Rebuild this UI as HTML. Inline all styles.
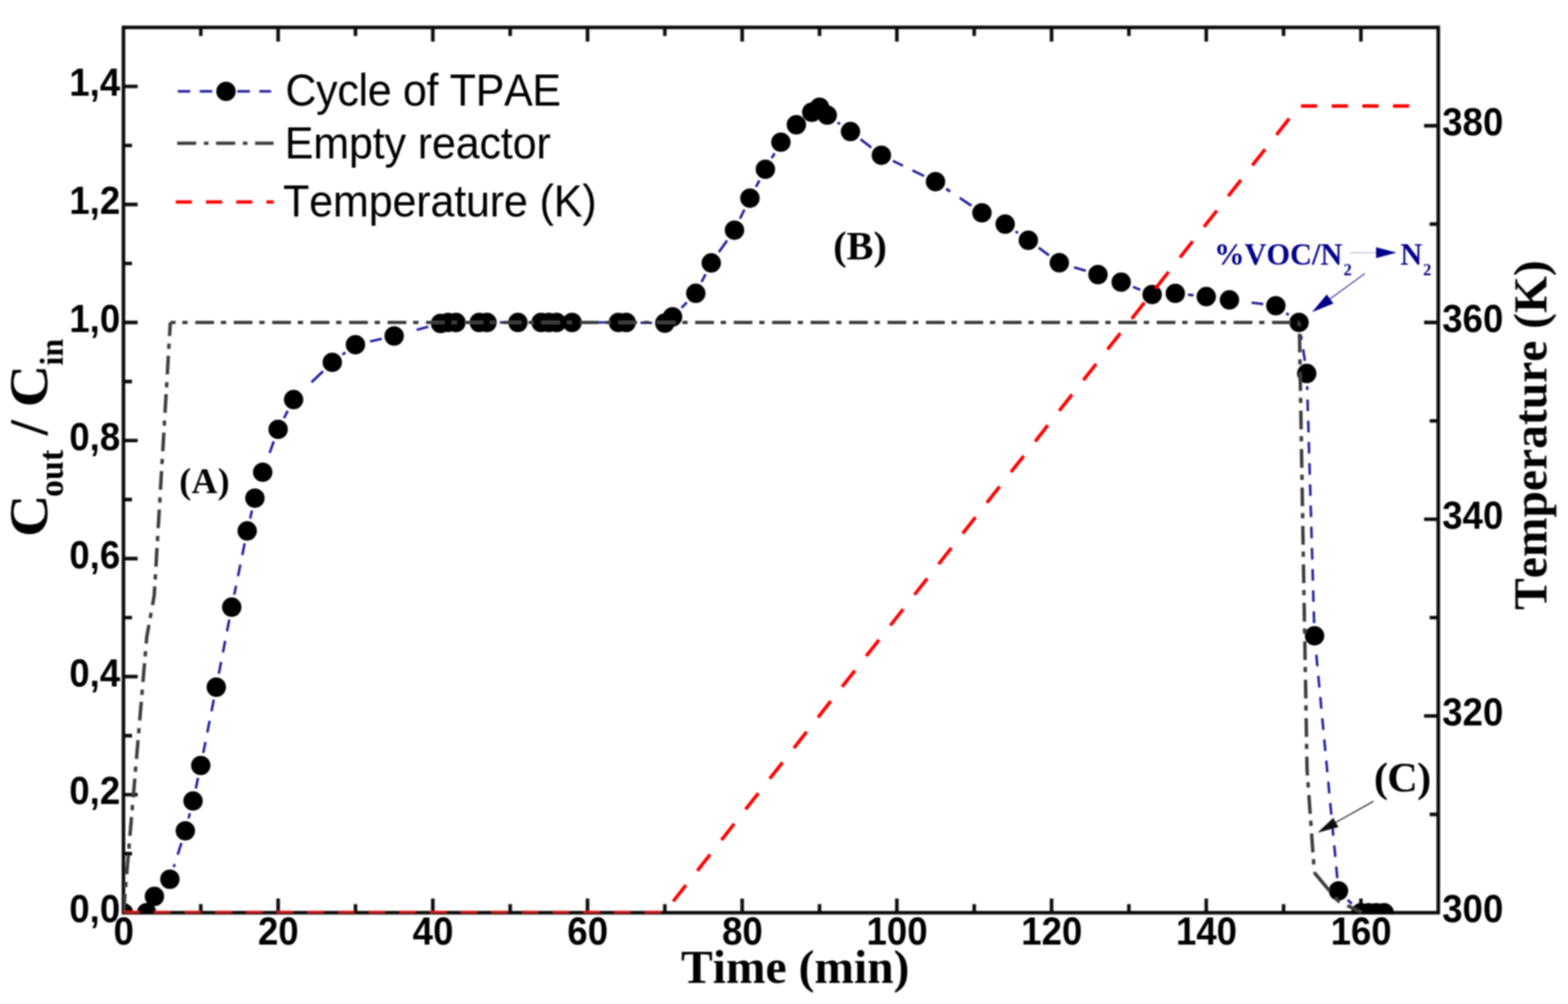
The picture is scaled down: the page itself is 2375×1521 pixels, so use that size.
<!DOCTYPE html>
<html lang="en"><head><meta charset="utf-8"><title>Cycle of TPAE</title>
<style>
html,body{margin:0;padding:0;background:#fff;}
body{width:2375px;height:1521px;overflow:hidden;}
svg{display:block;}
text{font-kerning:none;}
.sb{font-family:"Liberation Sans",Arial,Helvetica,sans-serif;font-weight:700;font-size:59px;fill:#000;}
.sr{font-family:"Liberation Sans",Arial,Helvetica,sans-serif;font-weight:400;font-size:68px;fill:#000;}
.tb{font-family:"Liberation Serif","Times New Roman",Times,serif;font-weight:700;fill:#000;}
</style></head><body>
<svg width="2375" height="1521" viewBox="0 0 2375 1521">
<defs>
<clipPath id="plot"><rect x="187.00" y="41.50" width="1991.50" height="1342.70"/></clipPath>
<filter id="soft" x="-2%" y="-2%" width="104%" height="104%"><feGaussianBlur stdDeviation="0.9"/></filter>
</defs>
<rect width="2375" height="1521" fill="#fff"/>
<g filter="url(#soft)">
<g stroke="#0c0c0c" fill="none" stroke-linecap="butt">
<rect x="187.00" y="41.50" width="1991.50" height="1341.20" stroke-width="5.4"/>
<path d="M304.15 1382.70 v-13.00 M304.15 41.50 v13.00 M421.29 1382.70 v-21.50 M421.29 41.50 v21.50 M538.44 1382.70 v-13.00 M538.44 41.50 v13.00 M655.59 1382.70 v-21.50 M655.59 41.50 v21.50 M772.74 1382.70 v-13.00 M772.74 41.50 v13.00 M889.88 1382.70 v-21.50 M889.88 41.50 v21.50 M1007.03 1382.70 v-13.00 M1007.03 41.50 v13.00 M1124.18 1382.70 v-21.50 M1124.18 41.50 v21.50 M1241.32 1382.70 v-13.00 M1241.32 41.50 v13.00 M1358.47 1382.70 v-21.50 M1358.47 41.50 v21.50 M1475.62 1382.70 v-13.00 M1475.62 41.50 v13.00 M1592.76 1382.70 v-21.50 M1592.76 41.50 v21.50 M1709.91 1382.70 v-13.00 M1709.91 41.50 v13.00 M1827.06 1382.70 v-21.50 M1827.06 41.50 v21.50 M1944.21 1382.70 v-13.00 M1944.21 41.50 v13.00 M2061.35 1382.70 v-21.50 M2061.35 41.50 v21.50 M187.00 1293.29 h13.00 M187.00 1203.87 h21.50 M187.00 1114.46 h13.00 M187.00 1025.05 h21.50 M187.00 935.63 h13.00 M187.00 846.22 h21.50 M187.00 756.81 h13.00 M187.00 667.39 h21.50 M187.00 577.98 h13.00 M187.00 488.57 h21.50 M187.00 399.15 h13.00 M187.00 309.74 h21.50 M187.00 220.33 h13.00 M187.00 130.91 h21.50 M2178.50 1233.68 h-13.00 M2178.50 1084.66 h-21.50 M2178.50 935.63 h-13.00 M2178.50 786.61 h-21.50 M2178.50 637.59 h-13.00 M2178.50 488.57 h-21.50 M2178.50 339.54 h-13.00 M2178.50 190.52 h-21.50" stroke-width="5.4"/>
</g>
<g clip-path="url(#plot)">
<path fill="none" stroke="#1a1a9a" stroke-width="3.7" d="M274.8 1277.0L269.2 1294.6 M264.6 1309.1L263.2 1313.6 M287.6 1232.1L285.6 1239.9 M300.0 1178.5L296.5 1194.5 M323.8 1059.9L320.4 1077.5 M317.5 1092.0L314.0 1109.6 M311.2 1124.1L307.9 1140.7 M347.3 938.7L343.9 956.3 M341.1 970.8L337.7 988.4 M334.9 1002.9L331.5 1020.5 M370.6 823.2L367.0 840.8 M364.1 855.3L360.5 872.9 M357.6 887.4L354.8 900.9 M381.7 773.5L378.9 785.5 M414.7 668.6L408.4 686.2 M435.8 622.4L430.2 633.3 M489.4 562.3L471.8 579.2 M523.1 533.9L518.7 537.2 M578.2 513.2L560.6 517.2 M648.7 495.0L631.1 499.8 M765.2 488.5L756.9 488.5 M917.4 488.5L899.8 488.5 M987.7 489.2L970.1 488.9 M1040.3 458.1L1032.3 466.2 M1068.6 415.5L1062.6 427.1 M1101.3 364.4L1088.8 382.0 M1127.5 317.6L1120.9 331.3 M1150.2 273.4L1145.0 283.2 M1173.2 232.2L1168.9 239.6 M1272.4 188.1L1268.8 185.6 M1319.7 223.5L1303.5 211.0 M1399.7 266.7L1382.1 258.2 M1367.6 251.1L1352.4 243.7 M1471.3 311.6L1453.7 299.8 M1439.2 290.1L1433.1 286.0 M1541.8 353.0L1538.3 350.5 M1588.9 386.7L1573.2 375.3 M1644.6 410.3L1627.0 404.9 M1727.1 439.0L1716.1 434.6 M1807.9 447.3L1799.4 446.4 M1913.3 460.7L1895.7 458.5 M1952.0 477.1L1948.2 474.4 M1976.5 546.7L1973.8 529.1 M1971.6 514.6L1970.5 507.5 M1990.5 943.9L1990.0 926.3 M1989.5 911.8L1989.0 894.2 M1988.6 879.7L1988.1 862.1 M1987.7 847.6L1987.1 830.0 M1986.7 815.5L1986.2 797.9 M1985.8 783.4L1985.2 765.8 M1984.8 751.3L1984.3 733.7 M1983.9 719.2L1983.4 701.6 M1982.9 687.1L1982.4 669.5 M1982.0 655.0L1981.5 637.4 M1981.0 622.9L1980.5 605.3 M1980.1 590.8L1979.9 585.1 M2025.6 1330.4L2023.9 1312.8 M2022.6 1298.3L2020.9 1280.7 M2019.5 1266.2L2017.9 1248.6 M2016.5 1234.1L2014.9 1216.5 M2013.5 1202.0L2011.9 1184.4 M2010.5 1169.9L2008.8 1152.3 M2007.5 1137.8L2005.8 1120.2 M2004.5 1105.7L2002.8 1088.1 M2001.4 1073.6L1999.8 1056.0 M1998.4 1041.5L1996.8 1023.9 M1995.4 1009.4L1993.8 991.8 M2047.5 1369.2L2041.2 1363.1"/>
<g fill="#000">
<circle cx="187.0" cy="1382.7" r="14.7"/>
<circle cx="222.1" cy="1382.7" r="14.7"/>
<circle cx="233.9" cy="1358.0" r="14.7"/>
<circle cx="257.3" cy="1332.0" r="14.7"/>
<circle cx="280.7" cy="1258.6" r="14.7"/>
<circle cx="292.4" cy="1213.4" r="14.7"/>
<circle cx="304.1" cy="1159.6" r="14.7"/>
<circle cx="327.6" cy="1041.0" r="14.7"/>
<circle cx="351.0" cy="919.8" r="14.7"/>
<circle cx="374.4" cy="804.3" r="14.7"/>
<circle cx="386.1" cy="754.7" r="14.7"/>
<circle cx="397.9" cy="715.4" r="14.7"/>
<circle cx="421.3" cy="650.4" r="14.7"/>
<circle cx="444.7" cy="605.3" r="14.7"/>
<circle cx="503.3" cy="548.9" r="14.7"/>
<circle cx="538.4" cy="522.2" r="14.7"/>
<circle cx="597.0" cy="509.0" r="14.7"/>
<circle cx="667.3" cy="490.0" r="14.7"/>
<circle cx="679.0" cy="488.5" r="14.7"/>
<circle cx="690.7" cy="488.5" r="14.7"/>
<circle cx="725.9" cy="488.5" r="14.7"/>
<circle cx="737.6" cy="488.5" r="14.7"/>
<circle cx="784.5" cy="488.5" r="14.7"/>
<circle cx="819.6" cy="488.5" r="14.7"/>
<circle cx="831.3" cy="488.5" r="14.7"/>
<circle cx="843.0" cy="488.5" r="14.7"/>
<circle cx="866.5" cy="488.5" r="14.7"/>
<circle cx="936.7" cy="488.5" r="14.7"/>
<circle cx="948.5" cy="488.5" r="14.7"/>
<circle cx="1007.0" cy="489.5" r="14.7"/>
<circle cx="1018.7" cy="480.0" r="14.7"/>
<circle cx="1053.9" cy="444.3" r="14.7"/>
<circle cx="1077.3" cy="398.3" r="14.7"/>
<circle cx="1112.5" cy="348.7" r="14.7"/>
<circle cx="1135.9" cy="300.2" r="14.7"/>
<circle cx="1159.3" cy="256.4" r="14.7"/>
<circle cx="1182.8" cy="215.4" r="14.7"/>
<circle cx="1206.2" cy="189.0" r="14.7"/>
<circle cx="1229.6" cy="170.0" r="14.7"/>
<circle cx="1241.3" cy="162.4" r="14.7"/>
<circle cx="1253.0" cy="174.4" r="14.7"/>
<circle cx="1288.2" cy="199.3" r="14.7"/>
<circle cx="1335.0" cy="235.2" r="14.7"/>
<circle cx="1417.0" cy="275.2" r="14.7"/>
<circle cx="1487.3" cy="322.4" r="14.7"/>
<circle cx="1522.5" cy="339.5" r="14.7"/>
<circle cx="1557.6" cy="364.0" r="14.7"/>
<circle cx="1604.5" cy="398.0" r="14.7"/>
<circle cx="1663.1" cy="416.0" r="14.7"/>
<circle cx="1698.2" cy="427.4" r="14.7"/>
<circle cx="1745.1" cy="446.2" r="14.7"/>
<circle cx="1780.2" cy="444.4" r="14.7"/>
<circle cx="1827.1" cy="449.3" r="14.7"/>
<circle cx="1862.2" cy="454.3" r="14.7"/>
<circle cx="1932.5" cy="463.1" r="14.7"/>
<circle cx="1967.6" cy="488.4" r="14.7"/>
<circle cx="1979.3" cy="565.8" r="14.7"/>
<circle cx="1991.1" cy="963.2" r="14.7"/>
<circle cx="2027.4" cy="1349.6" r="14.7"/>
<circle cx="2061.4" cy="1382.7" r="14.7"/>
<circle cx="2073.1" cy="1382.7" r="14.7"/>
<circle cx="2084.8" cy="1382.7" r="14.7"/>
<circle cx="2096.5" cy="1382.7" r="14.7"/>
</g>
<path fill="none" stroke="#3c3c3c" stroke-width="5.2" d="M187.0 1382.7L189.4 1354.3 M190.3 1344.0L190.9 1336.0 M191.9 1324.5L194.3 1296.0 M195.2 1285.8L195.9 1277.8 M196.8 1266.2L199.2 1237.8 M200.1 1227.5L200.8 1219.5 M201.8 1208.0L204.2 1179.5 M205.0 1169.2L205.7 1161.2 M206.7 1149.7L209.1 1121.3 M210.0 1111.0L210.6 1103.0 M211.6 1091.5L214.0 1063.1 M214.9 1052.8L215.6 1044.8 M216.5 1033.2L218.9 1004.8 M219.8 994.5L220.5 986.5 M221.5 975.0L222.3 965.0 M222.3 965.0L225.6 946.6 M227.5 936.2L228.9 928.2 M231.0 916.7L233.6 902.0 M233.6 902.0L234.4 888.3 M235.0 878.0L235.5 870.0 M236.2 858.5L237.8 830.1 M238.5 819.8L238.9 811.8 M239.6 800.2L241.3 771.8 M241.9 761.5L242.4 753.5 M243.0 742.0L244.7 713.6 M245.3 703.2L245.8 695.2 M246.5 683.7L248.2 655.3 M248.8 645.0L249.2 637.0 M249.9 625.5L251.6 597.1 M252.2 586.8L252.7 578.8 M253.4 567.2L255.0 538.8 M255.6 528.5L256.1 520.5 M256.8 509.0L258.0 488.5 M258.0 488.5L265.9 488.5 M276.2 488.5L284.2 488.5 M295.8 488.5L324.2 488.5 M334.5 488.5L342.5 488.5 M354.0 488.5L382.4 488.5 M392.8 488.5L400.8 488.5 M412.3 488.5L440.7 488.5 M451.0 488.5L459.0 488.5 M470.5 488.5L498.9 488.5 M509.2 488.5L517.2 488.5 M528.8 488.5L557.2 488.5 M567.5 488.5L575.5 488.5 M587.0 488.5L615.5 488.5 M625.8 488.5L633.8 488.5 M645.3 488.5L673.7 488.5 M684.0 488.5L692.0 488.5 M703.5 488.5L731.9 488.5 M742.2 488.5L750.2 488.5 M761.8 488.5L790.2 488.5 M800.5 488.5L808.5 488.5 M820.0 488.5L848.4 488.5 M858.7 488.5L866.7 488.5 M878.3 488.5L906.7 488.5 M917.0 488.5L925.0 488.5 M936.5 488.5L964.9 488.5 M975.2 488.5L983.2 488.5 M994.8 488.5L1023.2 488.5 M1033.5 488.5L1041.5 488.5 M1053.0 488.5L1081.4 488.5 M1091.7 488.5L1099.7 488.5 M1111.3 488.5L1139.7 488.5 M1150.0 488.5L1158.0 488.5 M1169.5 488.5L1197.9 488.5 M1208.2 488.5L1216.2 488.5 M1227.8 488.5L1256.2 488.5 M1266.5 488.5L1274.5 488.5 M1286.0 488.5L1314.4 488.5 M1324.7 488.5L1332.7 488.5 M1344.3 488.5L1372.7 488.5 M1383.0 488.5L1391.0 488.5 M1402.5 488.5L1430.9 488.5 M1441.2 488.5L1449.2 488.5 M1460.8 488.5L1489.2 488.5 M1499.5 488.5L1507.5 488.5 M1519.0 488.5L1547.4 488.5 M1557.7 488.5L1565.7 488.5 M1577.3 488.5L1605.7 488.5 M1616.0 488.5L1624.0 488.5 M1635.5 488.5L1663.9 488.5 M1674.2 488.5L1682.2 488.5 M1693.8 488.5L1722.2 488.5 M1732.5 488.5L1740.5 488.5 M1752.0 488.5L1780.4 488.5 M1790.7 488.5L1798.7 488.5 M1810.3 488.5L1838.7 488.5 M1849.0 488.5L1857.0 488.5 M1868.5 488.5L1896.9 488.5 M1907.2 488.5L1915.2 488.5 M1926.8 488.5L1955.2 488.5 M1965.5 488.5L1968.0 488.5 M1968.0 488.5L1968.1 494.0 M1968.3 505.5L1968.8 533.9 M1969.0 544.2L1969.1 552.2 M1969.3 563.8L1969.8 592.2 M1970.0 602.5L1970.1 610.5 M1970.3 622.0L1970.8 650.4 M1971.0 660.7L1971.1 668.7 M1971.3 680.3L1971.8 708.7 M1972.0 719.0L1972.1 727.0 M1972.3 738.5L1972.8 766.9 M1973.0 777.2L1973.1 785.2 M1973.3 796.8L1973.8 825.2 M1974.0 835.5L1974.1 843.5 M1974.3 855.0L1974.8 883.4 M1975.0 893.7L1975.1 901.7 M1975.3 913.3L1975.8 941.7 M1976.0 952.0L1976.2 960.0 M1976.4 971.5L1976.8 999.9 M1977.0 1010.2L1977.2 1018.2 M1977.4 1029.8L1977.9 1058.2 M1978.0 1068.5L1978.2 1076.5 M1978.4 1088.0L1978.9 1116.4 M1979.0 1126.7L1979.2 1134.7 M1979.4 1146.3L1979.7 1165.0 M1979.7 1165.0L1980.4 1174.7 M1981.1 1185.0L1981.7 1193.0 M1982.5 1204.5L1984.5 1232.9 M1985.2 1243.2L1985.8 1251.2 M1986.6 1262.8L1988.6 1291.2 M1989.4 1301.5L1989.9 1309.5 M1990.7 1321.0L1990.8 1322.0 M1990.8 1322.0L2013.7 1349.4 M2022.2 1359.7L2026.6 1365.0 M2026.6 1365.0L2029.3 1366.3 M2040.9 1371.8L2062.3 1382.0"/>
</g>
<path fill="none" stroke="#d01212" stroke-width="3.6" d="M187.0 1381.6L211.6 1381.6 M233.4 1381.6L258.1 1381.6 M279.9 1381.6L304.5 1381.6 M326.4 1381.6L350.9 1381.6 M372.8 1381.6L397.4 1381.6 M419.2 1381.6L443.8 1381.6 M465.7 1381.6L490.3 1381.6 M512.2 1381.6L536.8 1381.6 M558.6 1381.6L583.2 1381.6 M605.1 1381.6L629.7 1381.6 M651.5 1381.6L676.1 1381.6 M698.0 1381.6L722.6 1381.6 M744.4 1381.6L769.0 1381.6 M790.9 1381.6L815.5 1381.6 M837.3 1381.6L861.9 1381.6 M883.8 1381.6L908.4 1381.6 M930.2 1381.6L954.8 1381.6 M976.7 1381.6L1001.3 1381.6"/>
<path fill="none" stroke="#ff0000" stroke-width="5.2" d="M1019.7 1365.5L1039.0 1340.9 M1056.2 1319.1L1075.6 1294.5 M1092.8 1272.6L1112.1 1248.0 M1129.3 1226.2L1148.7 1201.6 M1165.9 1179.7L1185.2 1155.1 M1202.4 1133.3L1221.8 1108.7 M1239.0 1086.8L1258.3 1062.2 M1275.5 1040.4L1294.9 1015.8 M1312.1 993.9L1331.4 969.3 M1348.6 947.5L1368.0 922.9 M1385.1 901.0L1404.5 876.4 M1421.7 854.6L1441.1 830.0 M1458.2 808.1L1477.6 783.5 M1494.8 761.7L1514.1 737.1 M1531.3 715.2L1550.7 690.6 M1567.9 668.8L1587.2 644.2 M1604.4 622.3L1623.8 597.7 M1641.0 575.9L1660.3 551.3 M1677.5 529.4L1696.9 504.8 M1714.1 483.0L1733.4 458.4 M1750.6 436.5L1770.0 411.9 M1787.2 390.1L1806.5 365.5 M1823.7 343.6L1843.1 319.0 M1860.3 297.2L1879.6 272.6 M1896.8 250.7L1916.2 226.1 M1933.4 204.3L1952.7 179.7 M1970.5 160.7L1995.1 160.7 M2017.0 160.7L2041.6 160.7 M2063.4 160.7L2088.0 160.7 M2109.9 160.7L2134.5 160.7"/>
<g class="sb">
<text transform="translate(182.0 1397.2) scale(0.940 1)" text-anchor="end">0,0</text>
<text transform="translate(182.0 1218.4) scale(0.940 1)" text-anchor="end">0,2</text>
<text transform="translate(182.0 1039.5) scale(0.940 1)" text-anchor="end">0,4</text>
<text transform="translate(182.0 860.7) scale(0.940 1)" text-anchor="end">0,6</text>
<text transform="translate(182.0 681.9) scale(0.940 1)" text-anchor="end">0,8</text>
<text transform="translate(182.0 503.1) scale(0.940 1)" text-anchor="end">1,0</text>
<text transform="translate(182.0 324.2) scale(0.940 1)" text-anchor="end">1,2</text>
<text transform="translate(182.0 145.4) scale(0.940 1)" text-anchor="end">1,4</text>
<text transform="translate(187.3 1431.2) scale(0.940 1)" text-anchor="middle">0</text>
<text transform="translate(421.6 1431.2) scale(0.940 1)" text-anchor="middle">20</text>
<text transform="translate(655.9 1431.2) scale(0.940 1)" text-anchor="middle">40</text>
<text transform="translate(890.2 1431.2) scale(0.940 1)" text-anchor="middle">60</text>
<text transform="translate(1124.5 1431.2) scale(0.940 1)" text-anchor="middle">80</text>
<text transform="translate(1358.8 1431.2) scale(0.940 1)" text-anchor="middle">100</text>
<text transform="translate(1593.1 1431.2) scale(0.940 1)" text-anchor="middle">120</text>
<text transform="translate(1827.4 1431.2) scale(0.940 1)" text-anchor="middle">140</text>
<text transform="translate(2061.7 1431.2) scale(0.940 1)" text-anchor="middle">160</text>
<text transform="translate(2184.5 1397.2) scale(0.940 1)" text-anchor="start">300</text>
<text transform="translate(2184.5 1099.2) scale(0.940 1)" text-anchor="start">320</text>
<text transform="translate(2184.5 801.1) scale(0.940 1)" text-anchor="start">340</text>
<text transform="translate(2184.5 503.1) scale(0.940 1)" text-anchor="start">360</text>
<text transform="translate(2184.5 205.0) scale(0.940 1)" text-anchor="start">380</text>
</g>
<g>
<path d="M269.2 138.4H410.6" fill="none" stroke="#1a1a9a" stroke-width="3.7" stroke-dasharray="19 14.3 19 38 19 14.3 19 40"/>
<circle cx="342.3" cy="138.4" r="14.7" fill="#000"/>
<path d="M268.3 217H414.5" fill="none" stroke="#3c3c3c" stroke-width="5.2" stroke-dasharray="29 11.5 7 11.5"/>
<path d="M266.2 306H414.5" fill="none" stroke="#ff0000" stroke-width="5.2" stroke-dasharray="24.5 21.3"/>
<text class="sr" transform="translate(432.3 160.2) scale(0.96 1)" textLength="435.0" lengthAdjust="spacing">Cycle of TPAE</text>
<text class="sr" transform="translate(431.2 239.7) scale(0.96 1)" textLength="419.8" lengthAdjust="spacing">Empty reactor</text>
<text class="sr" transform="translate(428.7 328.1) scale(0.96 1)" textLength="494.8" lengthAdjust="spacing">Temperature (K)</text>
</g>
<text class="tb" x="1031.5" y="1489" font-size="72">Time (min)</text>
<text class="tb" transform="translate(2342.3 924) rotate(-90)" font-size="72">Temperature (K)</text>
<text class="tb" transform="translate(71.3 813.6) rotate(-90) scale(1.076 1)" font-size="83">C</text>
<text class="tb" transform="translate(95.0 753.1) rotate(-90) scale(0.975 1)" font-size="53">out</text>
<text class="tb" transform="translate(71.3 659.6) rotate(-90) scale(1.000 1)" font-size="83">/</text>
<text class="tb" transform="translate(71.3 616.9) rotate(-90) scale(1.076 1)" font-size="83">C</text>
<text class="tb" transform="translate(94.8 553.8) rotate(-90) scale(0.970 1)" font-size="50">in</text>
<text class="tb" x="271.5" y="747.4" font-size="54" textLength="76.3" lengthAdjust="spacing">(A)</text>
<text class="tb" x="1262" y="392.8" font-size="61">(B)</text>
<text class="tb" x="2081" y="1198.8" font-size="64" textLength="86.9" lengthAdjust="spacing">(C)</text>
<path d="M2080.2 1214.0L2023.4 1245.9" stroke="#111" stroke-width="1.6" fill="none" opacity="1.00"/><path d="M1995.5 1261.6L2019.5 1238.9L2027.3 1252.9Z" fill="#111"/>
<g class="tb" style="fill:#00008b">
<text x="1839" y="400.5" font-size="46" style="fill:#00008b">%VOC/N</text>
<text x="2035" y="417" font-size="25" style="fill:#00008b">2</text>
<text x="2121" y="400.5" font-size="46" style="fill:#00008b">N</text>
<text x="2155.5" y="417" font-size="25" style="fill:#00008b">2</text>
</g>
<path d="M2045.0 382.8L2084.3 382.8" stroke="#00008b" stroke-width="1.2" fill="none" opacity="0.35"/><path d="M2115.3 382.8L2084.3 391.1L2084.3 374.6Z" fill="#00008b"/>
<path d="M2067.2 414.4L2014.6 452.8" stroke="#00008b" stroke-width="1.5" fill="none" opacity="0.85"/><path d="M1987.2 472.9L2009.6 446.0L2019.7 459.7Z" fill="#00008b"/>
</g>
</svg>
</body></html>
